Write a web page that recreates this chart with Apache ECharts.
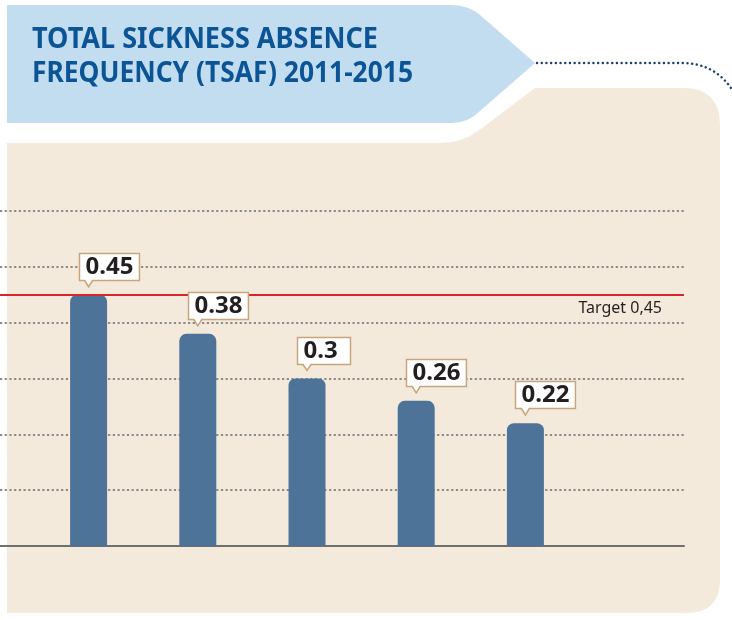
<!DOCTYPE html>
<html>
<head>
<meta charset="utf-8">
<script src="https://cdn.jsdelivr.net/npm/echarts@6/dist/echarts.min.js"></script>
<style>
  html, body { margin: 0; padding: 0; background: #ffffff; }
  #chart { width: 732px; height: 620px; }
</style>
</head>
<body>
<div id="chart"></div>
<script>
// Total sickness absence frequency per year
const years = ['2011', '2012', '2013', '2014', '2015'];
const tsaf = [0.45, 0.38, 0.3, 0.26, 0.22];
const target = 0.45;
const targetLabel = 'Target 0,45';
const titleLines = ['TOTAL SICKNESS ABSENCE', 'FREQUENCY (TSAF) 2011-2015'];
const yMin = 0, yMax = 0.6, yStep = 0.1;

const BAR = '#4e7399';
const BOX_BORDER = '#c9a57b';
const INK = '#231f20';
const LABEL_FONT = 'bold 24px "Noto Sans"';
const TITLE_FONT = 'bold 28px "Noto Sans"';

const measureCtx = document.createElement('canvas').getContext('2d');
function textWidth(text, font) {
  measureCtx.font = font;
  return measureCtx.measureText(text).width;
}

// condense the title face to the banner's line widths
const titleWidths = [346, 381];
const titleScales = titleLines.map((t, i) => titleWidths[i] / textWidth(t, TITLE_FONT));

// page furniture: beige panel, title banner and the dotted connector
function renderBackdrop() {
  return {
    type: 'group',
    children: [
      { type: 'path',
        shape: { pathData: 'M7,143 L440,143 Q462,143 478,131 L535,88 L683,88 Q720,88 720,125 L720,580 Q720,613 686,613 L7,613 Z' },
        style: { fill: '#f3eadb' } },
      { type: 'path',
        shape: { pathData: 'M7,5 L452,5 Q468,5 480,15 L535,63 L480,111 Q468,123 452,123 L7,123 Z' },
        style: { fill: '#c2ddef' } },
      { type: 'path',
        shape: { pathData: 'M537,63 L682,63 Q718,63 736,96' },
        style: { fill: null, stroke: '#1d3f73', lineWidth: 2.4, lineDash: [0.1, 4.6], lineCap: 'round' } }
    ]
  };
}

// value callout: white box with a small pointer down to the bar top
function renderCallout(params, api) {
  const idx = api.value(0);
  const v = api.value(1);
  const p = api.coord([idx, v]);
  const cx = p[0], top = p[1];
  const text = String(tsaf[params.dataIndex]);
  const tw = textWidth(text, LABEL_FONT);
  const w = Math.max(tw + 12, 53), h = 27;
  const left = Math.round(cx - 10) + 0.5;
  const bottom = Math.round(top - 15) + 0.5;
  const tipY = top - 8;
  return {
    type: 'group',
    children: [
      { type: 'rect', shape: { x: left, y: bottom - h, width: w, height: h },
        style: { fill: '#ffffff', stroke: BOX_BORDER, lineWidth: 1.5 } },
      { type: 'polygon', shape: { points: [[cx - 4, bottom - 1.2], [cx + 4, bottom - 1.2], [cx, tipY]] },
        style: { fill: '#ffffff' } },
      { type: 'polyline', shape: { points: [[cx - 4, bottom], [cx, tipY], [cx + 4, bottom]] },
        style: { stroke: BOX_BORDER, lineWidth: 1.5, fill: null } },
      { type: 'text', x: left + 6, y: bottom - h / 2 + 0.5,
        style: { text: text, font: LABEL_FONT, fill: INK, align: 'left', verticalAlign: 'middle' } }
    ]
  };
}

const chart = echarts.init(document.getElementById('chart'), null, { renderer: 'canvas' });

const option = {
  animation: false,
  backgroundColor: '#ffffff',
  graphic: titleLines.map((t, i) => ({
    type: 'text', z: 10, x: 32, y: 40 + i * 34, scaleX: titleScales[i],
    style: { text: t, font: TITLE_FONT, fill: '#0b5496', verticalAlign: 'middle' }
  })),
  grid: [
    // full-width frame: gridlines, baseline, target line
    { left: 0, right: 48, top: 211, bottom: 74, containLabel: false },
    // bar area
    { left: 34, right: 152, top: 211, bottom: 74, containLabel: false }
  ],
  xAxis: [
    { type: 'category', gridIndex: 0, data: years,
      axisLine: { show: true, lineStyle: { color: '#6f6f6f', width: 2 } },
      axisTick: { show: false }, axisLabel: { show: false }, splitLine: { show: false } },
    { type: 'category', gridIndex: 1, data: years, show: false }
  ],
  yAxis: [
    { type: 'value', gridIndex: 0, min: yMin, max: yMax, interval: yStep,
      axisLine: { show: false }, axisTick: { show: false }, axisLabel: { show: false },
      splitLine: { show: true, lineStyle: { color: '#8a8a8a', width: 2.2, type: [2.2, 2.5] } } },
    { type: 'value', gridIndex: 1, min: yMin, max: yMax, interval: yStep, show: false }
  ],
  series: [
    {
      name: 'backdrop', type: 'custom', coordinateSystem: 'none', z: -10, silent: true,
      renderItem: renderBackdrop, data: [0]
    },
    {
      name: 'target', type: 'line', xAxisIndex: 0, yAxisIndex: 0, data: [], z: 1,
      markLine: {
        silent: true, symbol: 'none',
        lineStyle: { color: '#d7262e', width: 2, type: 'solid' },
        label: {
          show: true, position: 'insideEndBottom', formatter: targetLabel,
          color: INK, fontSize: 16, fontFamily: 'Noto Sans', distance: 6,
          padding: [0, 16, 0, 0]
        },
        data: [{ yAxis: target }]
      }
    },
    {
      name: 'TSAF', type: 'bar', xAxisIndex: 1, yAxisIndex: 1, z: 3,
      barWidth: 37,
      itemStyle: { color: BAR, borderRadius: [7, 7, 0, 0] },
      data: tsaf
    },
    {
      name: 'values', type: 'custom', xAxisIndex: 1, yAxisIndex: 1, z: 5,
      renderItem: renderCallout,
      encode: { x: 0, y: 1 },
      data: tsaf.map((v, i) => [i, v])
    }
  ]
};

chart.setOption(option);
</script>
</body>
</html>
